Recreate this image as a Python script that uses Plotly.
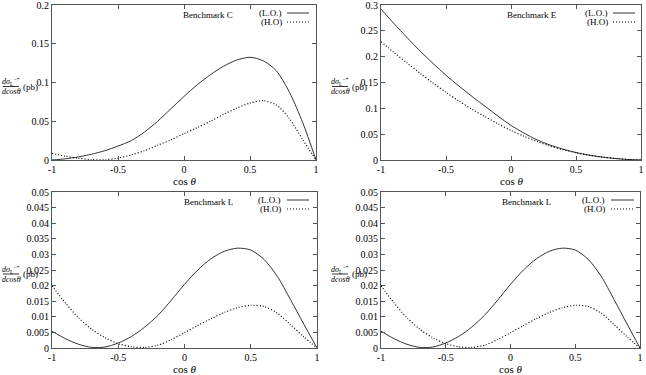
import plotly.graph_objects as go

# ---------------- data ----------------
cos_theta = [-1, -0.9, -0.8, -0.7, -0.6, -0.5, -0.4, -0.3, -0.2, -0.1, 0,
             0.1, 0.2, 0.3, 0.4, 0.5, 0.6, 0.7, 0.8, 0.9, 1]

lo_C = [0.0, 0.0015, 0.004, 0.0075, 0.012, 0.018, 0.025, 0.036, 0.050, 0.066, 0.082,
        0.097, 0.110, 0.121, 0.129, 0.1325, 0.128, 0.115, 0.087, 0.048, 0.0]
ho_C = [0.0086, 0.005, 0.0022, 0.0006, 0.0002, 0.0025, 0.0065, 0.012, 0.019, 0.026, 0.034,
        0.0418, 0.050, 0.059, 0.067, 0.0735, 0.0765, 0.071, 0.053, 0.026, 0.0]

lo_E = [0.292, 0.264, 0.237, 0.211, 0.187, 0.164, 0.143, 0.123, 0.104, 0.085, 0.067,
        0.052, 0.039, 0.029, 0.021, 0.0145, 0.0095, 0.0058, 0.003, 0.001, 0.0]
ho_E = [0.229, 0.208, 0.188, 0.168, 0.149, 0.131, 0.114, 0.098, 0.084, 0.070, 0.057,
        0.046, 0.036, 0.027, 0.020, 0.014, 0.0093, 0.0057, 0.003, 0.001, 0.0]

lo_L = [0.0054, 0.0030, 0.0012, 0.0002, 0.0003, 0.0016, 0.0037, 0.0067, 0.0105, 0.0153, 0.0204,
        0.0250, 0.0286, 0.0310, 0.0320, 0.0314, 0.0284, 0.0230, 0.0155, 0.0077, 0.0]
ho_L = [0.0199, 0.0145, 0.0097, 0.0060, 0.0033, 0.0014, 0.0004, 0.0002, 0.0009, 0.0027, 0.0049,
        0.0072, 0.0094, 0.0114, 0.0129, 0.0137, 0.0133, 0.0112, 0.0075, 0.0036, 0.0]

x_ticks = [-1, -0.5, 0, 0.5, 1]
x_ticktext = ["-1", "-0.5", "0", "0.5", "1"]
y_ticks_C = [0, 0.05, 0.1, 0.15, 0.2]
y_ticktext_C = ["0", "0.05", "0.1", "0.15", "0.2"]
y_ticks_E = [0, 0.05, 0.1, 0.15, 0.2, 0.25, 0.3]
y_ticktext_E = ["0", "0.05", "0.1", "0.15", "0.2", "0.25", "0.3"]
y_ticks_L = [0, 0.005, 0.01, 0.015, 0.02, 0.025, 0.03, 0.035, 0.04, 0.045, 0.05]
y_ticktext_L = ["0", "0.005", "0.01", "0.015", "0.02", "0.025", "0.03", "0.035", "0.04", "0.045", "0.05"]

titles = ["Benchmark C", "Benchmark E", "Benchmark L", "Benchmark L"]
series_names = ["(L.O.)", "(H.O)"]

# ---------------- layout helpers ----------------
W, H = 646, 375
FONT = "Liberation Serif, DejaVu Serif, serif"
AX = "#555555"
DOT = "1px,2px"

def px(x):
    return x / W

def py(y):
    return 1 - y / H

panels = [
    dict(x0=52, x1=316, y0=5, y1=160, lo=lo_C, ho=ho_C,
         yr=[0, 0.2], yt=y_ticks_C, ytt=y_ticktext_C, title=titles[0], tx=208, legx=284, legl=(287, 309)),
    dict(x0=381, x1=641, y0=5, y1=160, lo=lo_E, ho=ho_E,
         yr=[0, 0.3], yt=y_ticks_E, ytt=y_ticktext_E, title=titles[1], tx=532, legx=610, legl=(613, 635)),
    dict(x0=52, x1=317, y0=192, y1=348, lo=lo_L, ho=ho_L,
         yr=[0, 0.05], yt=y_ticks_L, ytt=y_ticktext_L, title=titles[2], tx=208, legx=283, legl=(287, 309)),
    dict(x0=381, x1=640, y0=192, y1=348, lo=lo_L, ho=ho_L,
         yr=[0, 0.05], yt=y_ticks_L, ytt=y_ticktext_L, title=titles[3], tx=526, legx=607, legl=(611, 634)),
]

fig = go.Figure()
annotations = []
shapes = []

def ann(x, y, text, size, xanchor="center"):
    annotations.append(dict(x=px(x), y=py(y), xref="paper", yref="paper", xanchor=xanchor, yanchor="middle",
                            text=text, showarrow=False, font=dict(family=FONT, size=size, color="#000")))

for i, p in enumerate(panels):
    n = "" if i == 0 else str(i + 1)
    xa, ya = "x" + n, "y" + n
    fig.add_trace(go.Scatter(x=cos_theta, y=p["lo"], mode="lines", name=series_names[0],
                             line=dict(color="#333333", width=1, shape="spline", smoothing=0.8),
                             xaxis=xa, yaxis=ya, showlegend=False))
    fig.add_trace(go.Scatter(x=cos_theta, y=p["ho"], mode="lines", name=series_names[1],
                             line=dict(color="#000000", width=1.2, dash=DOT, shape="spline", smoothing=0.8),
                             xaxis=xa, yaxis=ya, showlegend=False))
    axcommon = dict(showline=True, mirror="ticks", linecolor=AX, linewidth=1, ticks="inside",
                    ticklen=4, tickcolor=AX, showgrid=False, zeroline=False, automargin=False,
                    ticklabeloverflow="allow",
                    tickfont=dict(family=FONT, size=10, color="#000"))
    fig.update_layout(**{
        "xaxis" + n: dict(domain=[px(p["x0"]), px(p["x1"])], range=[-1, 1], tickvals=x_ticks,
                          ticktext=x_ticktext, anchor=ya, **axcommon),
        "yaxis" + n: dict(domain=[py(p["y1"]), py(p["y0"])], range=p["yr"], tickvals=p["yt"],
                          ticktext=p["ytt"], anchor=xa, **axcommon),
    })
    # x-axis title
    ann((p["x0"] + p["x1"]) / 2, p["y1"] + 21, "cos <i>θ</i>", 11)
    # Benchmark label
    ann(p["tx"], p["y0"] + 10, p["title"], 9)
    # legend
    for k, (nm, dash) in enumerate([(series_names[0], "solid"), (series_names[1], DOT)]):
        yy = p["y0"] + 8 + 9 * k
        ann(p["legx"], yy, nm, 9, xanchor="right")
        shapes.append(dict(type="line", xref="paper", yref="paper", x0=px(p["legl"][0]), x1=px(p["legl"][1]),
                           y0=py(yy), y1=py(yy),
                           line=dict(color="#333333" if k == 0 else "#000", width=1 if k == 0 else 1.2, dash=dash)))
    # y-axis title as a fraction
    fx0 = p["x0"] - 49
    fy = (p["y0"] + p["y1"]) / 2 + 4
    ann(fx0 + 8, fy - 5, "<i>dσ</i><sub>L</sub><sup>−+</sup>", 8)
    ann(fx0 + 8, fy + 5, "<i>dcosθ</i>", 8)
    shapes.append(dict(type="line", xref="paper", yref="paper", x0=px(fx0), x1=px(fx0 + 16),
                       y0=py(fy), y1=py(fy), line=dict(color="#000", width=0.8)))
    ann(fx0 + 27, fy, "(pb)", 9)

fig.update_layout(width=W, height=H, margin=dict(l=0, r=0, t=0, b=0, autoexpand=False),
                  paper_bgcolor="white", plot_bgcolor="white",
                  annotations=annotations, shapes=shapes, showlegend=False)

fig.write_html("out.html", config={"displayModeBar": False},
               post_script="document.body.style.margin='0';document.body.style.padding='0';")
